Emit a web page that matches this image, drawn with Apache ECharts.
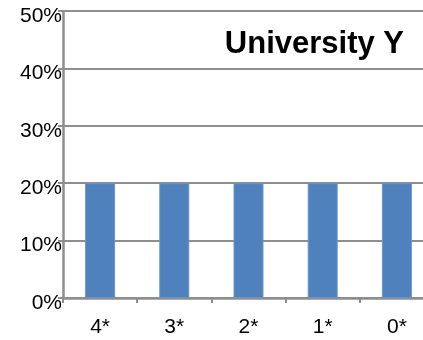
<!DOCTYPE html>
<html>
<head>
<meta charset="utf-8">
<script src="https://cdn.jsdelivr.net/npm/echarts@6/dist/echarts.min.js"></script>
<style>
  html, body { margin: 0; padding: 0; background: #fff; }
  #chart { width: 423px; height: 340px; }
</style>
</head>
<body>
<div id="chart"></div>
<script>
// Share of ratings per star band
const categories = ['4*', '3*', '2*', '1*', '0*'];
const shares = [0.2, 0.2, 0.2, 0.2, 0.2];
const chartTitle = 'University Y';

const FONT = '"Liberation Sans", Arial, sans-serif';
const GRID_GREY = '#8e8e8e';

const chart = echarts.init(document.getElementById('chart'), null, { renderer: 'canvas' });

chart.setOption({
  animation: false,
  backgroundColor: '#ffffff',
  title: {
    text: chartTitle,
    right: 14,
    top: 24,
    textStyle: { fontFamily: FONT, fontSize: 31, fontWeight: 'bold', color: '#000' }
  },
  grid: {
    left: 63,
    top: 11,
    width: 371,
    height: 287,
    outerBoundsMode: 'none',
    containLabel: false
  },
  xAxis: {
    type: 'category',
    data: categories,
    axisLine: { lineStyle: { color: GRID_GREY, width: 2.5 } },
    axisTick: { show: true, length: 5, lineStyle: { color: GRID_GREY, width: 2 } },
    axisLabel: { fontFamily: FONT, fontSize: 21, color: '#000', margin: 19 }
  },
  yAxis: {
    type: 'value',
    min: 0,
    max: 0.5,
    interval: 0.1,
    axisLine: { show: true, lineStyle: { color: GRID_GREY, width: 2.5 } },
    axisTick: { show: true, length: 5, lineStyle: { color: GRID_GREY, width: 2 } },
    splitLine: { show: true, lineStyle: { color: GRID_GREY, width: 2 } },
    axisLabel: {
      margin: 1,
      formatter: v => '{v|' + Math.round(v * 100) + '%}',
      rich: {
        v: { fontFamily: FONT, fontSize: 21, color: '#000', padding: [10, 0, 0, 0] }
      }
    }
  },
  series: [{
    type: 'bar',
    data: shares,
    barWidth: 30,
    itemStyle: { color: '#4f81bd', borderColor: '#6a95cc', borderWidth: 1 }
  }]
});
</script>
</body>
</html>
